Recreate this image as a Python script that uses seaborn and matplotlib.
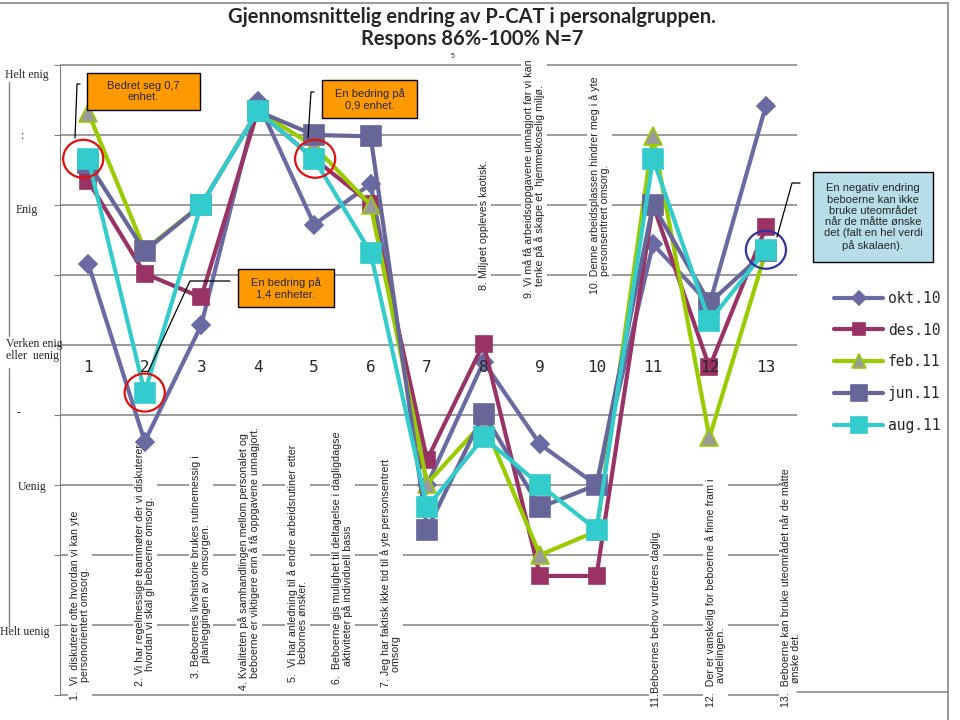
import matplotlib
matplotlib.use("Agg")
import matplotlib.pyplot as plt
from matplotlib.patches import Ellipse, Rectangle
import seaborn as sns
import pandas as pd

# data (1 = helt uenig ... 5 = helt enig)
sporsmal = list(range(1, 13 + 1))
okt10 = [3.58, 2.31, 3.14, 4.74, 3.86, 4.15, 2.00, 2.88, 2.29, 2.00, 3.72, 3.29, 4.71]
des10 = [4.17, 3.51, 3.34, 4.67, 4.33, 4.01, 2.18, 3.01, 1.35, 1.35, 4.00, 2.84, 3.84]
feb11 = [4.66, 3.68, 4.00, 4.67, 4.42, 4.00, 2.01, 2.45, 1.50, 1.67, 4.49, 2.34, 3.67]
jun11 = [4.30, 3.67, 4.00, 4.67, 4.50, 4.49, 1.68, 2.51, 1.84, 2.00, 4.00, 3.30, 3.67]
aug11 = [4.33, 2.66, 4.00, 4.67, 4.33, 3.66, 1.84, 2.34, 2.00, 1.68, 4.33, 3.17, 3.68]
serier = ["okt.10", "des.10", "feb.11", "jun.11", "aug.11"]

sp_tekst = [
    "1.  Vi  diskuterer ofte hvordan vi kan yte\n      personorientert omsorg.",
    "2. Vi har regelmessige teammøter der vi diskuterer\n     hvordan vi skal gi beboerne omsorg.",
    "3. Beboernes livshistorie brukes rutinemessig i\n     planleggingen av  omsorgen.",
    "4. Kvaliteten på samhandlingen mellom personalet og\n    beboerne er viktigere enn å få oppgavene unnagjort.",
    "5.  Vi har anledning til å endre arbeidsrutiner etter\n      bebornes ønsker.",
    "6.  Beboerne gis mulighet til deltagelse i dagligdagse\n      aktiviteter på individuell basis",
    "7. Jeg har faktisk ikke tid til å yte personsentrert\n     omsorg",
    "8. Miljøet oppleves kaotisk.",
    "9. Vi må få arbeidsoppgavene unnagjort før vi kan\n    tenke på å skape et  hjemmekoselig miljø.",
    "10. Denne arbeidsplassen hindrer meg i å yte\n      personsentrert omsorg.",
    "11.Beboernes behov vurderes daglig.",
    "12.  Der er vanskelig for beboerne å finne fram i\n        avdelingen.",
    "13.  Beboerne kan bruke uteområdet når de måtte\n        ønske det.",
]
y_etiketter = ["Helt enig", ":", "Enig", "Verken enig\neller  uenig", "-", "Uenig", "Helt uenig"]

df = pd.DataFrame({"nr": sporsmal * 5,
                   "verdi": okt10 + des10 + feb11 + jun11 + aug11,
                   "serie": [s for s in serier for _ in sporsmal]})

farger = {"okt.10": "#6B6BA3", "des.10": "#993366", "feb.11": "#99CC00",
          "jun.11": "#666699", "aug.11": "#33CCCC"}
markorer = {"okt.10": ("D", 9), "des.10": ("s", 11), "feb.11": ("^", 13),
            "jun.11": ("s", 15), "aug.11": ("s", 15)}

sns.set_style("white")
plt.rcParams["font.family"] = ["Liberation Sans", "DejaVu Sans"]

fig = plt.figure(figsize=(9.6, 7.2), dpi=100)


def px(x, y):
    return x / 960, 1 - y / 720


# axes placed so that 3 (neutral) sits at y=345px and one unit is 140px
ax = fig.add_axes([60 / 960, 1 - 700 / 720, 737 / 960, 658 / 720])
ax.set_ylim(0.464, 5.164)
ax.set_xlim(0.5, 13.55)

for y in [5, 4.5, 4, 3.5, 3, 2.5, 2, 1.5, 1, 0.5]:
    ax.axhline(y, color="#808080", lw=1.1, zorder=0)

for s in serier:
    m, ms = markorer[s]
    d = df[df.serie == s]
    mfc = "#9A9A9A" if s == "feb.11" else farger[s]
    sns.lineplot(data=d, x="nr", y="verdi", ax=ax, color=farger[s], lw=3,
                 marker=m, markersize=ms, markerfacecolor=mfc,
                 markeredgecolor=farger[s], markeredgewidth=1.2,
                 label=s, zorder=3)

ax.set_xlabel("")
ax.set_ylabel("")
ax.set_xticks([])
ax.set_yticks([5, 4.5, 4, 3.5, 3, 2.5, 2, 1.5, 1, 0.5])
ax.set_yticklabels([])
ax.tick_params(axis="y", direction="out", length=4, color="#808080", left=True)
for side in ["top", "right", "bottom"]:
    ax.spines[side].set_visible(False)
ax.spines["left"].set_color("#808080")
ax.spines["left"].set_bounds(0.5, 5)

# question numbers
for n in sporsmal:
    ax.text(n, 2.84, str(n), ha="center", va="center", fontsize=11.5,
            family="DejaVu Sans Mono", zorder=4)


def v(py):
    return 3 - (py - 345) / 140


ax.text(7.45, v(57), "5", fontsize=5, ha="center", va="center", clip_on=False)

# rotated question texts (white box breaks the gridlines)
tekst_pos = [(0.86, 700), (2.0, 686), (3.0, 678), (3.85, 690), (4.7, 682),
             (5.5, 684), (6.35, 687), (8.0, 290), (8.9, 298), (10.05, 294),
             (11.05, 707), (12.1, 707), (13.45, 707)]
for (xp, yb), t in zip(tekst_pos, sp_tekst):
    ax.text(xp, v(yb), t, rotation=90, ha="center", va="bottom", fontsize=7.7,
            color="#222222", linespacing=1.0, multialignment="left",
            bbox=dict(fc="white", ec="none", pad=1.5), zorder=1, clip_on=False)

# circles round the changed points
sirkler = [(0, aug11, "#E01010", -5), (1, aug11, "#E01010", 0),
           (4, aug11, "#E01010", 1), (12, aug11, "#333399", 0)]
for i, serie, farge, dx in sirkler:
    ax.add_patch(Ellipse((sporsmal[i] + dx / 56.3, serie[i]), 40 / 56.3, 38 / 140,
                         fill=False, ec=farge, lw=1.6, zorder=5))

leg = ax.legend(loc="upper left", bbox_to_anchor=px(828, 285),
                bbox_transform=fig.transFigure, frameon=False,
                prop={"family": "DejaVu Sans Mono", "size": 10.5},
                handlelength=3.4, labelspacing=1.15, handletextpad=0.3,
                markerscale=0.75, borderaxespad=0)

# overlay in pixel coordinates for frame, notes and left scale
ov = fig.add_axes([0, 0, 1, 1], zorder=10)
ov.set_xlim(0, 960)
ov.set_ylim(720, 0)
ov.axis("off")
ov.patch.set_alpha(0)

ov.plot([0, 948], [3, 3], color="#888888", lw=1.2)
ov.plot([948, 948], [3, 720], color="#888888", lw=1.2)
ov.plot([797, 948], [692, 692], color="#808080", lw=1.1)
ov.plot([9, 9], [82, 336], color="#808080", lw=1)
ov.plot([9, 9], [368, 628], color="#808080", lw=1)

ov.text(472, 17, "Gjennomsnittelig endring av P-CAT i personalgruppen.",
        ha="center", va="center", fontsize=14.5, fontweight="bold", family="Lato")
ov.text(472, 39, "Respons 86%-100% N=7", ha="center", va="center",
        fontsize=14.5, fontweight="bold", family="Lato")

y_pos = [(5, 75), (20, 136), (16, 210), (6, 350), (17, 413), (18, 487), (0, 632)]
for (xp, yp), t in zip(y_pos, y_etiketter):
    ov.text(xp, yp, t, ha="left", va="center", fontsize=8.5,
            family="Liberation Serif", linespacing=1.1)


def notat(x0, y0, x1, y1, tekst, fc):
    ov.add_patch(Rectangle((x0, y0), x1 - x0, y1 - y0, fc=fc, ec="black", lw=1))
    ov.text((x0 + x1) / 2, (y0 + y1) / 2, tekst, ha="center", va="center",
            fontsize=8, linespacing=1.15)


notat(87, 73, 200, 110, "Bedret seg 0,7\nenhet.", "#FF9900")
notat(322, 80, 417, 118, "En bedring på\n0,9 enhet.", "#FF9900")
notat(238, 269, 334, 307, "En bedring på\n1,4 enheter.", "#FF9900")
notat(813, 172, 933, 262,
      "En negativ endring\nbeboerne kan ikke\nbruke uteområdet\nnår de måtte ønske\ndet (falt en hel verdi\npå skalaen).",
      "#B7DEE8")

for xs, ys in [([80, 77, 75], [84, 84, 138]), ([314, 311, 308], [92, 92, 138]),
               ([230, 190, 148], [281, 281, 372]), ([800, 792, 777], [183, 183, 237])]:
    ov.plot(xs, ys, color="black", lw=0.9)

fig.savefig("out.png", dpi=100)
